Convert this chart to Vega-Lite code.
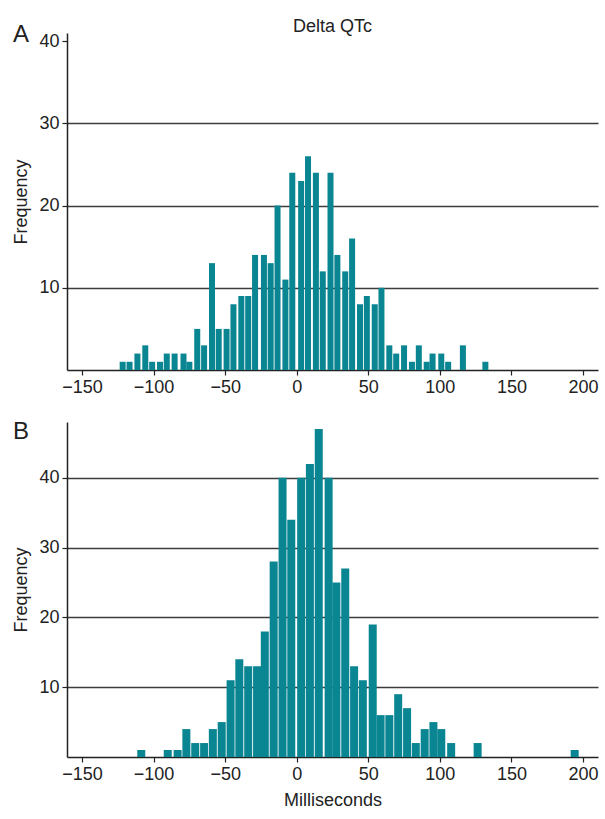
{
  "$schema": "https://vega.github.io/schema/vega-lite/v6.json",
  "background": "white",
  "padding": {"left": 12, "top": 18, "right": 8, "bottom": 6},
  "config": {
    "font": "Liberation Sans",
    "view": {"stroke": null},
    "axis": {
      "labelFont": "Liberation Sans",
      "labelFontSize": 18,
      "labelColor": "#222222",
      "titleFont": "Liberation Sans",
      "titleFontSize": 18,
      "titleFontWeight": "normal",
      "titleColor": "#222222",
      "domainColor": "#222222",
      "domainWidth": 1.5,
      "tickColor": "#222222",
      "tickWidth": 1.2,
      "tickSize": 5,
      "gridColor": "#3d3d3d",
      "gridWidth": 1.5,
      "labelPadding": 3
    },
    "title": {"font": "Liberation Sans", "fontWeight": "normal", "color": "#222222"}
  },
  "title": {"text": "Delta QTc", "fontSize": 18, "anchor": "middle", "frame": "group", "offset": -13},
  "spacing": 24,
  "vconcat": [
    {
      "width": 531,
      "height": 337,
      "title": {"text": "A", "fontSize": 24, "anchor": "start", "frame": "group", "baseline": "alphabetic", "offset": -34, "dx": -54},
      "data": {"values": [
        {"ms": -121.6, "count": 1}, {"ms": -116.8, "count": 1}, {"ms": -111.3, "count": 2}, {"ms": -105.8, "count": 3},
        {"ms": -101.0, "count": 1}, {"ms": -95.5, "count": 1}, {"ms": -90.8, "count": 2}, {"ms": -85.3, "count": 2},
        {"ms": -79.1, "count": 2}, {"ms": -75.0, "count": 1}, {"ms": -69.5, "count": 5}, {"ms": -64.7, "count": 3},
        {"ms": -59.2, "count": 13}, {"ms": -54.5, "count": 5}, {"ms": -49.0, "count": 5}, {"ms": -44.2, "count": 8},
        {"ms": -38.7, "count": 9}, {"ms": -33.9, "count": 9}, {"ms": -29.1, "count": 14}, {"ms": -22.9, "count": 14},
        {"ms": -18.2, "count": 13}, {"ms": -13.4, "count": 20}, {"ms": -7.9, "count": 11}, {"ms": -3.1, "count": 24},
        {"ms": 3.1, "count": 23}, {"ms": 7.9, "count": 26}, {"ms": 13.4, "count": 24}, {"ms": 18.2, "count": 12},
        {"ms": 23.6, "count": 24}, {"ms": 28.4, "count": 14}, {"ms": 33.9, "count": 12}, {"ms": 38.7, "count": 16},
        {"ms": 44.2, "count": 8}, {"ms": 49.0, "count": 9}, {"ms": 54.5, "count": 8}, {"ms": 59.2, "count": 10},
        {"ms": 64.7, "count": 3}, {"ms": 69.5, "count": 2}, {"ms": 75.0, "count": 3}, {"ms": 80.5, "count": 1},
        {"ms": 85.3, "count": 3}, {"ms": 90.8, "count": 1}, {"ms": 94.9, "count": 2}, {"ms": 101.0, "count": 2},
        {"ms": 105.8, "count": 1}, {"ms": 116.1, "count": 3}, {"ms": 131.8, "count": 1}
      ]},
      "mark": {"type": "bar", "width": 6, "color": "#0a8592"},
      "encoding": {
        "x": {
          "field": "ms", "type": "quantitative",
          "scale": {"domain": [-157, 207], "nice": false, "zero": false},
          "axis": {"values": [-150, -100, -50, 0, 50, 100, 150, 200], "title": null, "grid": false, "format": "d", "labelExpr": "replace(datum.label, '-', '−')"}
        },
        "y": {
          "field": "count", "type": "quantitative",
          "scale": {"domain": [0, 41], "nice": false},
          "axis": {
            "values": [10, 20, 30, 40], "title": "Frequency", "titlePadding": 8, "grid": true,
            "gridOpacity": {"condition": {"test": "datum.value == 40", "value": 0}, "value": 1}
          }
        }
      }
    },
    {
      "width": 531,
      "height": 335,
      "title": {"text": "B", "fontSize": 24, "anchor": "start", "frame": "group", "baseline": "alphabetic", "offset": -41, "dx": -54},
      "data": {"values": [
        {"ms": -108.6, "count": 1}, {"ms": -90.1, "count": 1}, {"ms": -83.2, "count": 1}, {"ms": -77.1, "count": 4},
        {"ms": -70.9, "count": 2}, {"ms": -64.7, "count": 2}, {"ms": -58.6, "count": 4}, {"ms": -52.4, "count": 5},
        {"ms": -46.2, "count": 11}, {"ms": -40.1, "count": 14}, {"ms": -33.9, "count": 13}, {"ms": -27.7, "count": 13},
        {"ms": -22.3, "count": 18}, {"ms": -16.1, "count": 28}, {"ms": -9.9, "count": 40}, {"ms": -3.8, "count": 34},
        {"ms": 3.1, "count": 40}, {"ms": 9.2, "count": 42}, {"ms": 15.4, "count": 47}, {"ms": 22.3, "count": 40},
        {"ms": 27.7, "count": 25}, {"ms": 33.9, "count": 27}, {"ms": 40.1, "count": 13}, {"ms": 46.2, "count": 11},
        {"ms": 53.1, "count": 19}, {"ms": 58.6, "count": 6}, {"ms": 64.7, "count": 6}, {"ms": 70.9, "count": 9},
        {"ms": 77.1, "count": 7}, {"ms": 83.2, "count": 2}, {"ms": 89.4, "count": 4}, {"ms": 95.5, "count": 5},
        {"ms": 101.0, "count": 4}, {"ms": 107.9, "count": 2}, {"ms": 126.4, "count": 2}, {"ms": 194.2, "count": 1}
      ]},
      "mark": {"type": "bar", "width": 8, "color": "#0a8592"},
      "encoding": {
        "x": {
          "field": "ms", "type": "quantitative",
          "scale": {"domain": [-157, 207], "nice": false, "zero": false},
          "axis": {"values": [-150, -100, -50, 0, 50, 100, 150, 200], "title": "Milliseconds", "titlePadding": 8, "grid": false, "format": "d", "labelExpr": "replace(datum.label, '-', '−')"}
        },
        "y": {
          "field": "count", "type": "quantitative",
          "scale": {"domain": [0, 48], "nice": false},
          "axis": {"values": [10, 20, 30, 40], "title": "Frequency", "titlePadding": 8, "grid": true}
        }
      }
    }
  ]
}
